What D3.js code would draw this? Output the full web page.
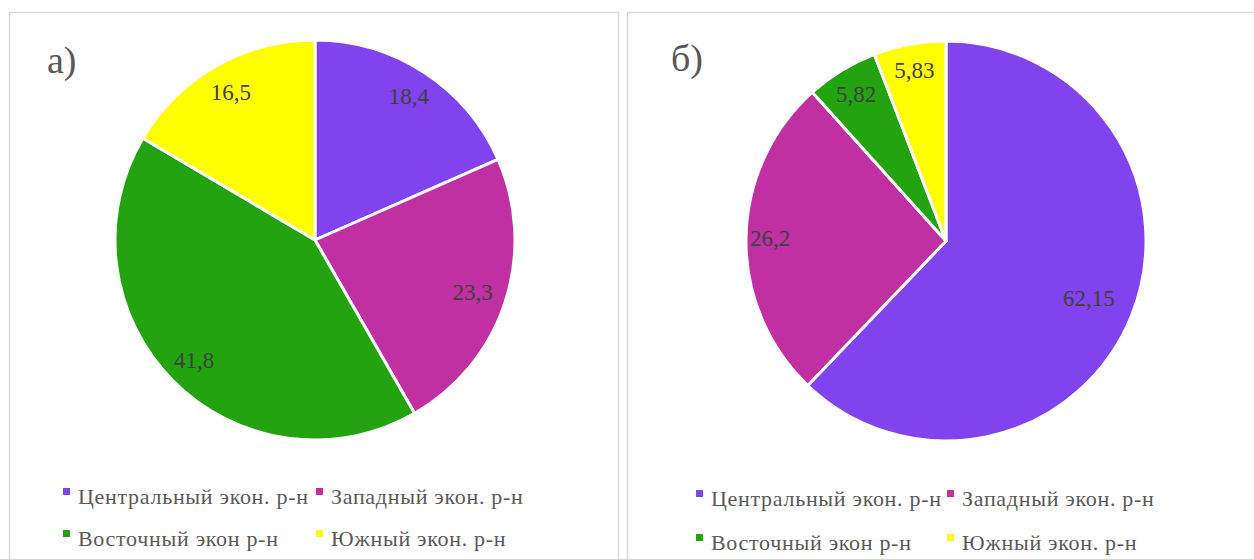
<!DOCTYPE html>
<html>
<head>
<meta charset="utf-8">
<script src="https://cdn.jsdelivr.net/npm/d3@7"></script>
<style>
  html, body { margin: 0; padding: 0; background: #fff; font-family: "Liberation Serif", serif; }
  svg { display: block; font-family: "Liberation Serif", serif; }
</style>
</head>
<body>
<svg id="chart" width="1254" height="559"></svg>
<script>
// regions (same order in both charts)
var regions = ["Центральный экон. р-н", "Западный экон. р-н", "Восточный экон р-н", "Южный экон. р-н"];
var colors = ["#8043ED", "#C130A3", "#22A30F", "#FFFF00"];

// values, %
var valuesA = [18.4, 23.3, 41.8, 16.5];
var valuesB = [62.15, 26.2, 5.82, 5.83];
var labelsA = ["18,4", "23,3", "41,8", "16,5"];
var labelsB = ["62,15", "26,2", "5,82", "5,83"];

var FONT = "'Liberation Serif', 'Times New Roman', serif";
var svg = d3.select("#chart");

// panel frames
var panels = [
  {x: 9, y: 12, w: 609, h: 560, title: "а)", tx: 47, ty: 73, cx: 315, cy: 240,
   values: valuesA, labels: labelsA, lr: [0.86, 0.83, 0.85, 0.85],
   legX: [63, 316], legY: [488, 530]},
  {x: 627, y: 12, w: 640, h: 560, title: "б)", tx: 671, ty: 71, cx: 946, cy: 241,
   values: valuesB, labels: labelsB, lr: [0.77, 0.88, 0.86, 0.87],
   legX: [696, 947], legY: [490, 534]}
];

var radius = 200;
var pie = d3.pie().sort(null).value(function(d) { return d; });
var arc = d3.arc().innerRadius(0).outerRadius(radius);

panels.forEach(function(p) {
  var g = svg.append("g");

  g.append("rect")
    .attr("x", p.x + 0.5).attr("y", p.y + 0.5)
    .attr("width", p.w).attr("height", p.h)
    .attr("fill", "#fff")
    .attr("stroke", "#d9d9d9")
    .attr("stroke-width", 1.5);

  g.append("text")
    .attr("x", p.tx).attr("y", p.ty)
    .style("font-family", FONT)
    .style("font-size", "38px")
    .attr("fill", "#595959")
    .text(p.title);

  var pg = g.append("g").attr("transform", "translate(" + p.cx + "," + p.cy + ")");
  var arcs = pie(p.values);

  pg.selectAll("path")
    .data(arcs)
    .join("path")
    .attr("d", arc)
    .attr("fill", function(d, i) { return colors[i]; })
    .attr("stroke", "#fff")
    .attr("stroke-width", 3)
    .attr("stroke-linejoin", "round");

  pg.selectAll("text")
    .data(arcs)
    .join("text")
    .attr("transform", function(d, i) {
      var a = (d.startAngle + d.endAngle) / 2;
      var r = radius * p.lr[i];
      return "translate(" + (Math.sin(a) * r) + "," + (-Math.cos(a) * r) + ")";
    })
    .attr("text-anchor", "middle")
    .attr("dy", "0.35em")
    .style("font-family", FONT)
    .style("font-size", "23px")
    .attr("fill", "#404040")
    .text(function(d, i) { return p.labels[i]; });

  // legend, 2 x 2
  var leg = g.selectAll(".leg")
    .data(regions)
    .join("g")
    .attr("class", "leg")
    .attr("transform", function(d, i) {
      return "translate(" + p.legX[i % 2] + "," + p.legY[Math.floor(i / 2)] + ")";
    });

  leg.append("rect")
    .attr("width", 7).attr("height", 7)
    .attr("fill", function(d, i) { return colors[i]; });

  leg.append("text")
    .attr("x", 15).attr("y", 16)
    .style("font-family", FONT)
    .style("font-size", "22px")
    .style("letter-spacing", "0.7px")
    .attr("fill", "#595959")
    .text(function(d) { return d; });
});
</script>
</body>
</html>
